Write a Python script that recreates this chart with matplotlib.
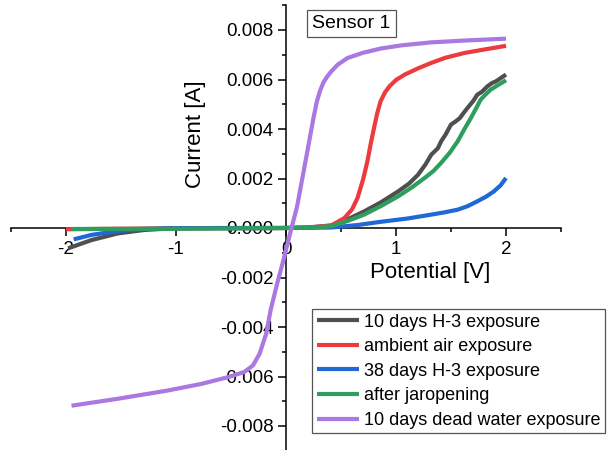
import matplotlib
matplotlib.use('Agg')
import matplotlib.pyplot as plt
from matplotlib.ticker import MultipleLocator, FormatStrFormatter

plt.rcParams['font.family'] = ['Liberation Sans', 'DejaVu Sans']
plt.rcParams['axes.unicode_minus'] = False

# I-V sweeps, Sensor 1 (potential in V, current in mA -> converted to A below)
h3_10d_v = [-1.98, -1.77, -1.53, -1.29, -1.02, -0.6, 0.0, 0.2, 0.41, 0.55, 0.71, 0.86, 1.02, 1.12,
            1.20, 1.27, 1.32, 1.38, 1.41, 1.45, 1.50, 1.54, 1.58, 1.62, 1.65, 1.70, 1.74, 1.78,
            1.83, 1.87, 1.91, 1.95, 2.0]
h3_10d_ma = [-0.82, -0.49, -0.22, -0.08, -0.01, 0.0, 0.0, 0.02, 0.10, 0.33, 0.67, 1.03, 1.48, 1.80,
             2.15, 2.58, 2.96, 3.22, 3.50, 3.77, 4.18, 4.30, 4.44, 4.68, 4.85, 5.12, 5.39, 5.50,
             5.72, 5.85, 5.93, 6.05, 6.20]

air_v = [-2.0, -1.0, 0.0, 0.2, 0.41, 0.53, 0.60, 0.65, 0.70, 0.74, 0.77, 0.80, 0.83, 0.86, 0.90,
         0.94, 1.00, 1.08, 1.20, 1.32, 1.45, 1.62, 1.80, 2.0]
air_ma = [-0.05, -0.01, 0.0, 0.02, 0.10, 0.40, 0.75, 1.21, 1.95, 2.69, 3.40, 4.04, 4.65, 5.12, 5.48,
          5.72, 5.98, 6.20, 6.45, 6.67, 6.88, 7.07, 7.21, 7.36]

h3_38d_v = [-1.93, -1.77, -1.53, -1.29, -1.0, 0.0, 0.41, 0.65, 0.86, 1.10, 1.32, 1.45, 1.56, 1.65,
            1.74, 1.82, 1.89, 1.95, 2.0]
h3_38d_ma = [-0.46, -0.28, -0.12, -0.04, -0.01, 0.0, 0.02, 0.12, 0.25, 0.38, 0.54, 0.64, 0.74, 0.88,
             1.08, 1.27, 1.48, 1.72, 2.02]

jar_v = [-1.95, -1.0, 0.0, 0.2, 0.41, 0.55, 0.71, 0.86, 1.02, 1.15, 1.26, 1.34, 1.41, 1.49, 1.56,
         1.62, 1.68, 1.73, 1.77, 1.82, 1.86, 1.93, 2.0]
jar_ma = [-0.04, -0.03, 0.0, 0.01, 0.07, 0.27, 0.54, 0.88, 1.28, 1.66, 2.02, 2.30, 2.63, 3.05, 3.50,
          3.98, 4.44, 4.85, 5.19, 5.42, 5.59, 5.78, 5.97]

dead_v = [-1.95, -1.53, -1.08, -0.77, -0.53, -0.38, -0.30, -0.24, -0.18, -0.14, -0.08, -0.015,
          0.045, 0.10, 0.19, 0.25, 0.28, 0.31, 0.34, 0.375, 0.41, 0.47, 0.56, 0.70, 0.86, 1.05,
          1.32, 1.65, 2.0]
dead_ma = [-7.18, -6.90, -6.57, -6.30, -6.03, -5.82, -5.55, -5.08, -4.27, -3.32, -2.24, -1.16,
           -0.08, 0.85, 3.00, 4.45, 5.10, 5.55, 5.88, 6.12, 6.32, 6.60, 6.87, 7.08, 7.25, 7.38,
           7.50, 7.58, 7.65]

series = [
    (h3_10d_v, h3_10d_ma, '10 days H-3 exposure', '#4f4f4f'),
    (air_v, air_ma, 'ambient air exposure', '#ec3a3d'),
    (h3_38d_v, h3_38d_ma, '38 days H-3 exposure', '#1f68d6'),
    (jar_v, jar_ma, 'after jaropening', '#2e9e5e'),
    (dead_v, dead_ma, '10 days dead water exposure', '#a978e0'),
]

fig = plt.figure(figsize=(6.07, 4.5), dpi=100)
ax = fig.add_axes([11 / 607, -0.75 / 450, 550 / 607, 445.5 / 450])

lines = []
for xv, ma, name, col in series:
    ln, = ax.plot(xv, [m * 1e-3 for m in ma], color=col, lw=3.0, label=name,
                  zorder=3, solid_capstyle='butt', solid_joinstyle='round')
    lines.append(ln)

ax.set_xlim(-2.5, 2.5)
ax.set_ylim(-0.009, 0.009)

# axes cross at the origin
for side in ('top', 'right'):
    ax.spines[side].set_visible(False)
ax.spines['left'].set_position(('data', 0))
ax.spines['bottom'].set_position(('data', 0))
for side in ('left', 'bottom'):
    ax.spines[side].set_linewidth(1.1)

ax.xaxis.set_major_locator(MultipleLocator(1))
ax.xaxis.set_minor_locator(MultipleLocator(0.5))
ax.yaxis.set_major_locator(MultipleLocator(0.002))
ax.yaxis.set_minor_locator(MultipleLocator(0.001))
ax.yaxis.set_major_formatter(FormatStrFormatter('%.3f'))
ax.tick_params(which='major', direction='out', length=6, width=1.1, labelsize=13.5, pad=3)
ax.tick_params(which='minor', direction='out', length=3, width=1.1)
ax.patch.set_visible(False)

ax.set_xlabel('Potential [V]', fontsize=16, va='center')
ax.xaxis.set_label_coords(0.762, 0.401)
ax.set_ylabel('Current [A]', fontsize=16, va='center')
ax.yaxis.set_label_coords(0.336, 0.711)

fig.text(351.5 / 607, 1 - 23.5 / 450, 'Sensor 1', ha='center', va='center', fontsize=14,
         bbox=dict(boxstyle='square,pad=0.28', fc='white', ec='#555555', lw=0.9))

leg = fig.legend(handles=lines, loc='upper left', bbox_to_anchor=(312 / 607, 1 - 309 / 450),
                 bbox_transform=fig.transFigure, fontsize=13.0, frameon=True, fancybox=False,
                 edgecolor='#555555', framealpha=1, borderpad=0.25, borderaxespad=0,
                 handlelength=2.35, handletextpad=0.3, labelspacing=0.42)
leg.get_frame().set_linewidth(0.9)

fig.savefig('out.png', dpi=100)
